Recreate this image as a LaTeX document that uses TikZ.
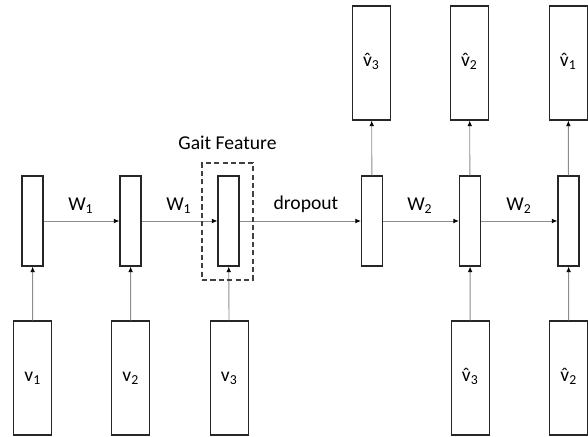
\documentclass[tikz,border=0pt]{standalone}
\usepackage{fontspec}
\setmainfont{Carlito}
\usetikzlibrary{positioning,arrows.meta}
\newcommand{\sbs}[1]{\textsubscript{#1}}
\newcommand{\vh}{\ooalign{v\cr\hidewidth ˆ\hidewidth\cr}}

\begin{document}
\begin{tikzpicture}[x=0.5pt,y=-0.5pt,
  vecbox/.style={draw=black!85,line width=0.6pt,minimum width=19pt,minimum height=57pt,
    inner sep=0pt,font=\fontsize{9.8}{11}\selectfont},
  hidbox/.style={draw=black!85,line width=0.6pt,minimum width=10.5pt,minimum height=45pt,inner sep=0pt},
  link/.style={draw=black!45,line width=0.45pt,-{Latex[length=2.8pt,width=2.4pt,black]}},
  lbl/.style={font=\fontsize{9.8}{11}\selectfont,inner sep=0pt}]
\useasboundingbox (0,0) rectangle (588,437);
% hidden states
\foreach \i/\x in {1/32.5, 2/130.5, 3/228.5, 4/372, 5/470, 6/568.5}{
  \node[hidbox] (h\i) at (\x,221) {};
}
% inputs
\foreach \i/\x/\nm in {1/32.8/v\sbs{1}, 2/130.8/v\sbs{2}, 3/229.3/v\sbs{3},
  5/470.3/\vh\sbs{3}, 6/568.8/\vh\sbs{2}}{
  \node[vecbox] (in\i) at (\x,378) {\nm};
  \draw[link] (in\i) -- (h\i);
}
% outputs
\foreach \i/\x/\nm in {4/371.5/\vh\sbs{3}, 5/469.5/\vh\sbs{2}, 6/568.3/\vh\sbs{1}}{
  \node[vecbox] (out\i) at (\x,63) {\nm};
  \draw[link] (h\i) -- (out\i);
}
% recurrence
\foreach \a/\b in {1/2, 2/3, 3/4, 4/5, 5/6}{
  \draw[link] (h\a) -- (h\b);
}
\node[lbl] (w1a) at (81,206) {W\sbs{1}};
\node[lbl] (w1b) at (179,206) {W\sbs{1}};
\node[lbl] (drop) at (306,204) {dropout};
\node[lbl] (w2a) at (420,206) {W\sbs{2}};
\node[lbl] (w2b) at (519,206) {W\sbs{2}};
% gait feature
\node[draw=black!75,dash pattern=on 2.6pt off 1.6pt,line width=0.6pt,minimum width=25.5pt,
  minimum height=58.5pt,inner sep=0pt] (gait) at (227.5,221.5) {};
\node[lbl,above=6pt of gait] (gaitlbl) {Gait Feature};
\end{tikzpicture}
\end{document}
